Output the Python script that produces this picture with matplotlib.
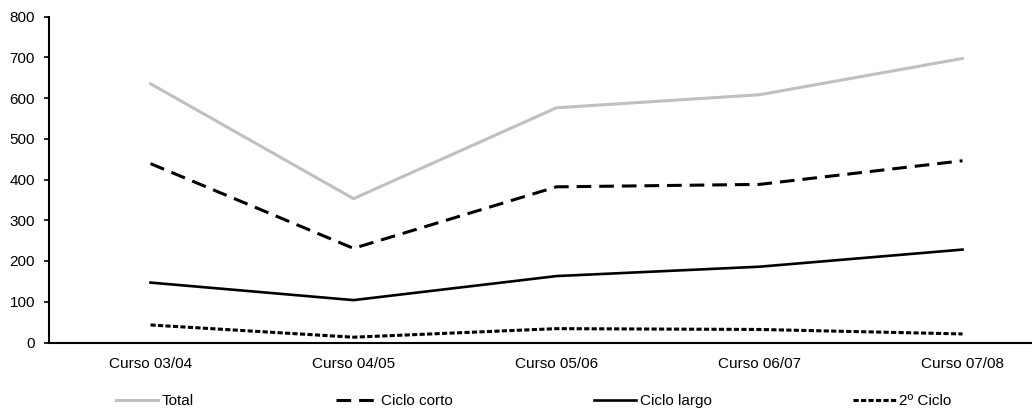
import matplotlib.pyplot as plt

plt.rcParams['font.family'] = ['Liberation Sans', 'DejaVu Sans']
plt.rcParams['font.size'] = 11

cursos = ['Curso 03/04', 'Curso 04/05', 'Curso 05/06', 'Curso 06/07', 'Curso 07/08']
total = [635, 353, 576, 608, 697]
ciclo_corto = [439, 231, 382, 388, 446]
ciclo_largo = [147, 104, 163, 186, 228]
segundo_ciclo = [43, 13, 34, 32, 21]

fig = plt.figure(figsize=(10.32, 4.09), dpi=100)
ax = fig.add_axes([49 / 1032, 66.5 / 409, 1015 / 1032, 326 / 409])

x = range(len(cursos))
ax.plot(x, total, color='#c0c0c0', lw=2.2, label='Total')
ax.plot(x, ciclo_corto, color='black', lw=2.2, dashes=(4.8, 2.6), label='Ciclo corto')
ax.plot(x, ciclo_largo, color='black', lw=1.9, label='Ciclo largo')
ax.plot(x, segundo_ciclo, color='black', lw=2.2, dashes=(1.7, 0.75), label='2º Ciclo')

ax.set_xlim(-0.5, 4.5)
ax.set_ylim(0, 800)
ax.set_yticks(range(0, 801, 100))
ax.set_xticks(list(x))
ax.set_xticklabels(cursos)
ax.tick_params(axis='x', length=0, pad=10.5)
ax.tick_params(axis='y', length=3.5, width=1.2, direction='out', pad=6.5)

for side in ['top', 'right']:
    ax.spines[side].set_visible(False)
ax.spines['left'].set_linewidth(1.5)
ax.spines['bottom'].set_linewidth(1.5)

fig.legend(loc='center', bbox_to_anchor=(0.517, 0.019), ncol=4, frameon=False,
           handlelength=2.75, handletextpad=0.2, columnspacing=9.3, borderpad=0)

fig.savefig('out.png', dpi=100)
